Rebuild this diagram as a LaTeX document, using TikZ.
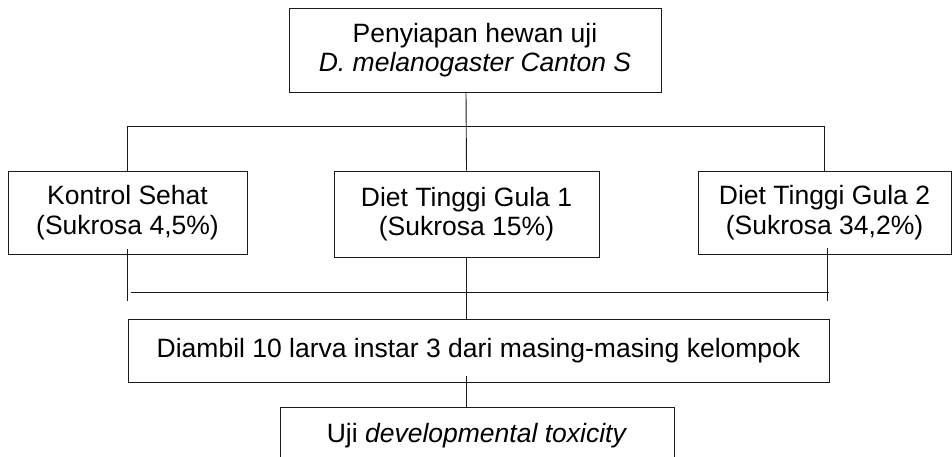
\documentclass[tikz,border=0pt]{standalone}
\usepackage{fontspec}
\setmainfont{Liberation Sans}
\usepackage{xcolor}
\usetikzlibrary{positioning,calc}
\definecolor{fcLine}{HTML}{1A1A1A}
\definecolor{fcText}{HTML}{000000}
\tikzset{
  fcbox/.style={rectangle, draw=fcLine, line width=0.9pt, align=center, inner sep=0pt,
                fill=white, text=fcText, font=\fontsize{26.5}{29.5}\selectfont},
  link/.style={draw=fcLine, line width=0.9pt},
}

\begin{document}
\begin{tikzpicture}[x=1pt, y=-1pt]
  \useasboundingbox (0,0) rectangle (952,456);
  \clip (0,0) rectangle (952,456);

  \node[fcbox, minimum width=372pt, minimum height=84pt] (prep) at (475,50)
    {Penyiapan hewan uji\\\textit{D. melanogaster Canton S}};
  \node[fcbox, minimum width=239pt, minimum height=83pt] (ctrl) at (127.5,212.5)
    {Kontrol Sehat\\(Sukrosa 4,5\%)};
  \node[fcbox, minimum width=265pt, minimum height=86pt] (hsd1) at (466.5,214)
    {Diet Tinggi Gula 1\\(Sukrosa 15\%)};
  \node[fcbox, minimum width=253pt, minimum height=83pt] (hsd2) at (824.5,212.5)
    {Diet Tinggi Gula 2\\(Sukrosa 34,2\%)};
  \node[fcbox, minimum width=701pt, minimum height=63pt] (take) at (478.5,350.5)
    {Diambil 10 larva instar 3 dari masing-masing kelompok};
  \node[fcbox, minimum width=394pt, minimum height=58pt] (test) at (477,436)
    {Uji \textit{developmental toxicity}};

  % split to the three groups
  \coordinate (split) at (466,126.5);
  \draw[link] (prep.south -| split) -- (hsd1.north);
  \draw[link] (ctrl.north) |- (split) -| (hsd2.north);

  % merge of the groups
  \coordinate (merge) at (466,292.5);
  \draw[link] ([yshift=5pt]ctrl.south) -- ([yshift=-8pt]ctrl.south |- merge);
  \draw[link] ([xshift=3pt]ctrl.south |- merge) -- ([xshift=4pt]hsd2.south |- merge);
  \draw[link] ([xshift=3pt,yshift=6pt]hsd2.south) -- ([xshift=3pt,yshift=-8pt]hsd2.south |- merge);
  \draw[link] (hsd1.south) -- (hsd1.south |- take.north);
  \draw[link] ([yshift=6pt]take.south -| hsd1.south) -- (hsd1.south |- test.north);
\end{tikzpicture}
\end{document}
